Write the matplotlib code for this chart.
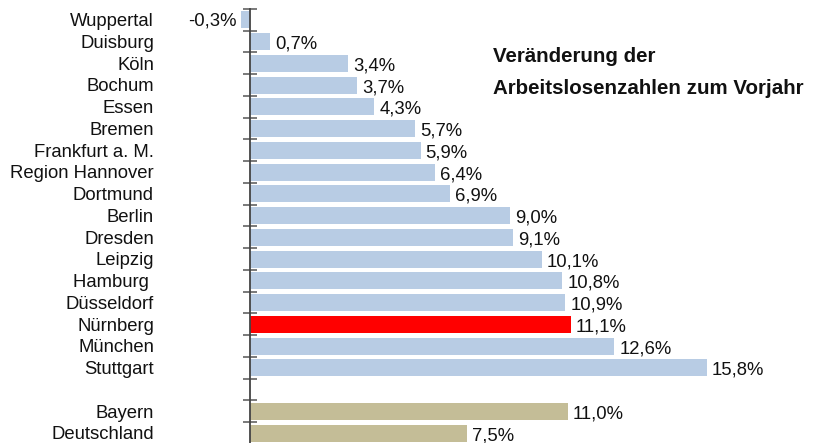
import matplotlib.pyplot as plt

plt.rcParams['font.family'] = ['Liberation Sans', 'DejaVu Sans']

staedte = ['Wuppertal', 'Duisburg', 'Köln', 'Bochum', 'Essen', 'Bremen',
           'Frankfurt a. M.', 'Region Hannover', 'Dortmund', 'Berlin', 'Dresden',
           'Leipzig', 'Hamburg ', 'Düsseldorf', 'Nürnberg', 'München', 'Stuttgart']
werte = [-0.3, 0.7, 3.4, 3.7, 4.3, 5.7, 5.9, 6.4, 6.9, 9.0, 9.1,
         10.1, 10.8, 10.9, 11.1, 12.6, 15.8]
gesamt = ['Bayern', 'Deutschland']
gesamt_werte = [11.0, 7.5]

blau = '#B8CCE4'
rot = '#FF0000'
beige = '#C4BD97'

fig = plt.figure(figsize=(8.24, 4.43), dpi=100)
W, H = 824, 443
# 0 liegt bei x=250 px, 28.92 px pro Prozentpunkt
x0, s = 250, 28.92
xmin, xmax = -0.4, 19.8
links = x0 + xmin * s
ax = fig.add_axes([links / W, (H - 444) / H, (xmax - xmin) * s / W, 435 / H])

# Positionen: Städte 0..16, Lücke, dann Bayern / Deutschland
pos_st = list(range(len(staedte)))
pos_ges = [len(staedte) + 1 + i for i in range(len(gesamt))]

farben = [rot if n == 'Nürnberg' else blau for n in staedte]
ax.barh(pos_st, werte, height=0.78, color=farben, zorder=2)
ax.barh(pos_ges, gesamt_werte, height=0.78, color=beige, zorder=2)

ax.set_xlim(xmin, xmax)
ax.set_ylim(pos_ges[-1] + 0.5, -0.5)

fs = 13.3
alle_namen = staedte + gesamt
alle_werte = werte + gesamt_werte
alle_pos = pos_st + pos_ges
for name, v, p in zip(alle_namen, alle_werte, alle_pos):
    ax.text((154 - x0) / s, p + 0.08, name, ha='right', va='center', fontsize=fs,
            color='#111111', clip_on=False)
    txt = f'{v:.1f}%'.replace('.', ',')
    if v < 0:
        ax.text(v - 5 / s, p + 0.05, txt, ha='right', va='center', fontsize=fs,
                color='#111111')
    else:
        ax.text(v + 5 / s, p + 0.12, txt, ha='left', va='center', fontsize=fs,
                color='#111111')

for sp in ['top', 'right', 'bottom']:
    ax.spines[sp].set_visible(False)
ax.spines['left'].set_position(('data', 0))
ax.spines['left'].set_color('#444444')
ax.spines['left'].set_linewidth(1.3)
ax.set_xticks([])
ax.set_yticks([i - 0.5 for i in range(pos_ges[-1] + 2)])
ax.set_yticklabels([])
ax.tick_params(axis='y', direction='inout', length=10, width=1.1, color='#555555')

fig.text(493 / W, 1 - 56 / H, 'Veränderung der', fontsize=14.8, fontweight='bold',
         va='center', ha='left', color='#111111')
fig.text(493 / W, 1 - 89 / H, 'Arbeitslosenzahlen zum Vorjahr', fontsize=14.8,
         fontweight='bold', va='center', ha='left', color='#111111')

fig.savefig('out.png', dpi=100)
